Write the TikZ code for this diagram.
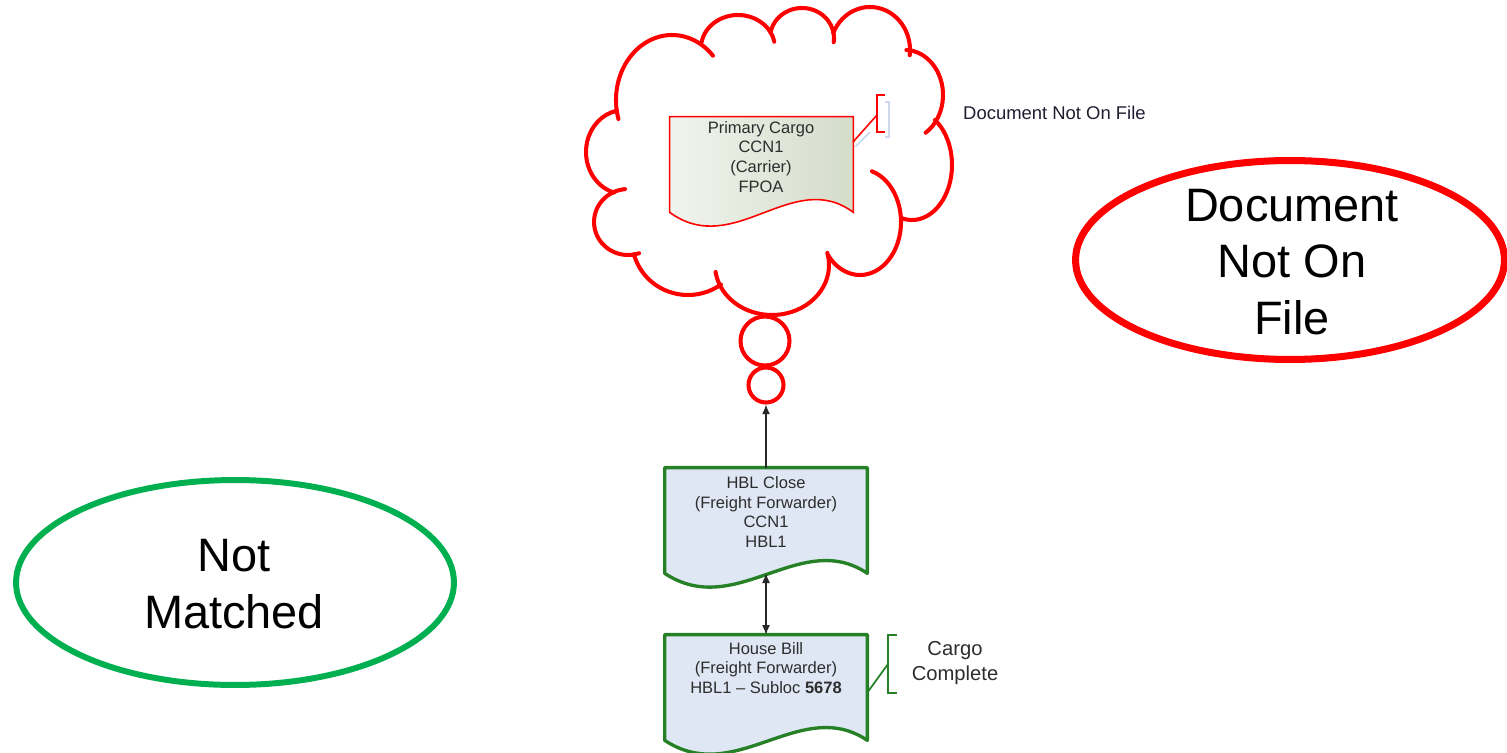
\documentclass[tikz,border=0pt]{standalone}
\usepackage{fontspec}
\setmainfont{Liberation Sans}
\usetikzlibrary{shapes.geometric,arrows.meta,calc}
\definecolor{cloudred}{RGB}{255,0,0}
\definecolor{boxgreen}{RGB}{38,128,38}
\definecolor{boxfill}{RGB}{223,231,245}
\definecolor{ellgreen}{RGB}{0,176,80}
\definecolor{txtgray}{RGB}{45,45,45}
\definecolor{navytxt}{RGB}{30,30,50}
\definecolor{pcA}{RGB}{241,244,237}
\definecolor{pcB}{RGB}{212,220,202}
\definecolor{ghost}{RGB}{205,218,238}
\definecolor{arrowgray}{RGB}{40,40,40}
\newcommand\cloudarc[6]{\draw[cloudline] ([shift={(#3:#5 and #6)}]#1,#2) arc[start angle=#3,end angle=#4,x radius=#5,y radius=#6];}
\newcommand\docoutline[2]{\draw[#2] (#1.north west) -- (#1.north east) -- (#1.south east) .. controls ($(#1.south east)!0.33!(#1.south west)+(0,-45)$) and ($(#1.south west)!0.35!(#1.south east)+(0,47)$) .. (#1.south west) -- cycle;}
\begin{document}
\begin{tikzpicture}[x=0.02cm,y=-0.02cm,
  cloudline/.style={draw=cloudred, line width=2.3pt, line cap=round},
  docbox/.style={rectangle, draw=none, inner sep=0pt, minimum width=4.04cm, minimum height=2.1cm},
  boxtext/.style={align=center, text=txtgray, font=\fontsize{9.4}{11.3}\selectfont},
  arrowline/.style={draw=arrowgray, line width=0.6pt},
  bigtext/.style={align=center, text=black, font=\fontsize{26.7}{32}\selectfont},
  thought/.style={circle, draw=cloudred, line width=2.3pt, inner sep=0pt}]
\useasboundingbox (0,0) rectangle (1507,753);
% cloud
\cloudarc{672}{100}{163}{317}{56}{65}
\cloudarc{738}{48}{190}{349}{37}{33}
\cloudarc{802}{38}{190}{368}{32}{30}
\cloudarc{870}{50}{203}{367}{40}{43}
\cloudarc{905}{95}{272}{417}{38}{45}
\cloudarc{912}{165}{305}{464}{40}{55}
\cloudarc{860}{222}{287}{501}{41}{53}
\cloudarc{772}{265}{-14}{172}{57}{50}
\cloudarc{688}{240}{54}{165}{56}{55}
\cloudarc{628}{222}{71}{265}{34}{33}
\cloudarc{624}{152}{105}{258}{38}{42}
\node[thought, minimum size=0.98cm] (t1) at (765,341) {};
\node[thought, minimum size=0.7cm] (t2) at (766,385) {};
% primary cargo document
\node[rectangle, draw=none, inner sep=0pt, minimum width=3.66cm, minimum height=1.9cm] (pc) at (761.5,164.5) {};
\docoutline{pc}{draw=cloudred, line width=0.9pt, left color=pcA, right color=pcB}
\node[boxtext] (pct) at (761,157) {Primary Cargo\\CCN1\\(Carrier)\\FPOA};
% annotation bracket
\coordinate (pcR) at (853,142);
\coordinate (brM) at (877,115);
\coordinate (pcRg) at (855,147);
\coordinate (brMg) at (870,132);
\draw[ghost, line width=1pt] (885,102) -- (889,102) -- (889,137) -- (885,137);
\draw[ghost, line width=1pt] (pcRg) -- (brMg);
\draw[cloudred, line width=1.1pt] (885,95) -- (877,95) -- (877,132) -- (885,132);
\draw[cloudred, line width=0.9pt] (pcR) -- (brM);
\node[anchor=west, text=navytxt, font=\fontsize{10.5}{12}\selectfont] (dnof) at (957,113) {Document Not On File};
% HBL close
\node[docbox] (hbl) at (766,520.5) {};
\docoutline{hbl}{draw=boxgreen, line width=1.9pt, fill=boxfill, line join=round}
\node[boxtext] (hblt) at (766,512) {HBL Close\\(Freight Forwarder)\\CCN1\\HBL1};
% House bill
\node[docbox] (hb) at (766,687.5) {};
\docoutline{hb}{draw=boxgreen, line width=1.9pt, fill=boxfill, line join=round}
\node[boxtext] (hbt) at (766,668) {House Bill\\(Freight Forwarder)\\HBL1 -- Subloc \textbf{5678}};
% cargo complete bracket
\coordinate (hbR) at (867,693);
\coordinate (ccM) at (888,664);
\draw[boxgreen, line width=1pt] (897,635) -- (888,635) -- (888,693) -- (897,693);
\draw[boxgreen, line width=1pt] (hbR) -- (ccM);
\node[align=center, text=txtgray, font=\fontsize{11.5}{14.2}\selectfont] (cc) at (955,663) {Cargo\\Complete};
% arrows
\draw[arrowline, -{Latex[length=5.5pt,width=4.5pt]}] (hbl.north) -- (t2.south);
\draw[arrowline, {Latex[length=5.5pt,width=4.5pt]}-{Latex[length=5.5pt,width=4.5pt]}] (hbl.south) -- (hb.north);
% ellipses
\node[ellipse, draw=cloudred, line width=4pt, minimum width=8.58cm, minimum height=3.98cm, inner sep=0pt] (dnofe) at (1290,260) {};
\node[bigtext] (dnoft) at (1292,262) {Document\\Not On\\File};
\node[ellipse, draw=ellgreen, line width=3.4pt, minimum width=8.76cm, minimum height=4.1cm, inner sep=0pt] (nme) at (235,582.5) {};
\node[bigtext] (nmt) at (234,584) {Not\\Matched};
\end{tikzpicture}
\end{document}
